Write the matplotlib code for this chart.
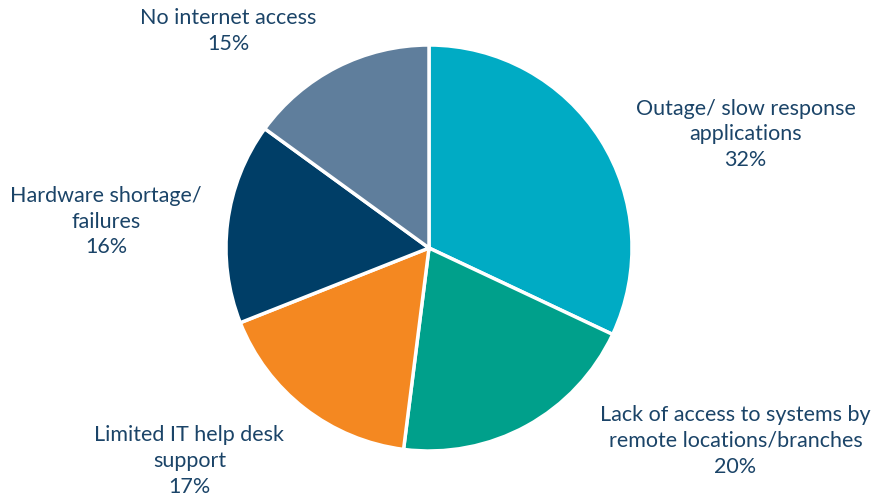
import matplotlib
matplotlib.use("Agg")
import matplotlib.pyplot as plt

categories = [
    "Outage/ slow response\napplications",
    "Lack of access to systems by\nremote locations/branches",
    "Limited IT help desk\nsupport",
    "Hardware shortage/\nfailures",
    "No internet access",
]
shares = [32, 20, 17, 16, 15]
colors = ["#00ABC4", "#00A08B", "#F48821", "#003E67", "#5F7E9C"]

# label anchor points in pie-radius units
label_xy = [(1.56, 0.56), (1.51, -0.95), (-1.18, -1.05), (-1.59, 0.13), (-0.99, 1.07)]

plt.rcParams["font.family"] = ["Lato", "DejaVu Sans"]
text_color = "#1B4468"

fig = plt.figure(figsize=(8.71, 4.96), dpi=100)
W, H = 871, 496
cx, cy, r = 429, 248, 203
ax = fig.add_axes([(cx - r) / W, (H - cy - r) / H, 2 * r / W, 2 * r / H])
ax.pie(shares, colors=colors, startangle=90, counterclock=False, radius=1,
       wedgeprops=dict(edgecolor="white", linewidth=2.5))
ax.set_xlim(-1, 1)
ax.set_ylim(-1, 1)
ax.set_aspect("equal")
ax.axis("off")

for name, val, (x, y) in zip(categories, shares, label_xy):
    ax.text(x, y, f"{name}\n{val}%", ha="center", va="center", fontsize=15.5,
            color=text_color, linespacing=1.36, clip_on=False)

fig.savefig("out.png", dpi=100)
